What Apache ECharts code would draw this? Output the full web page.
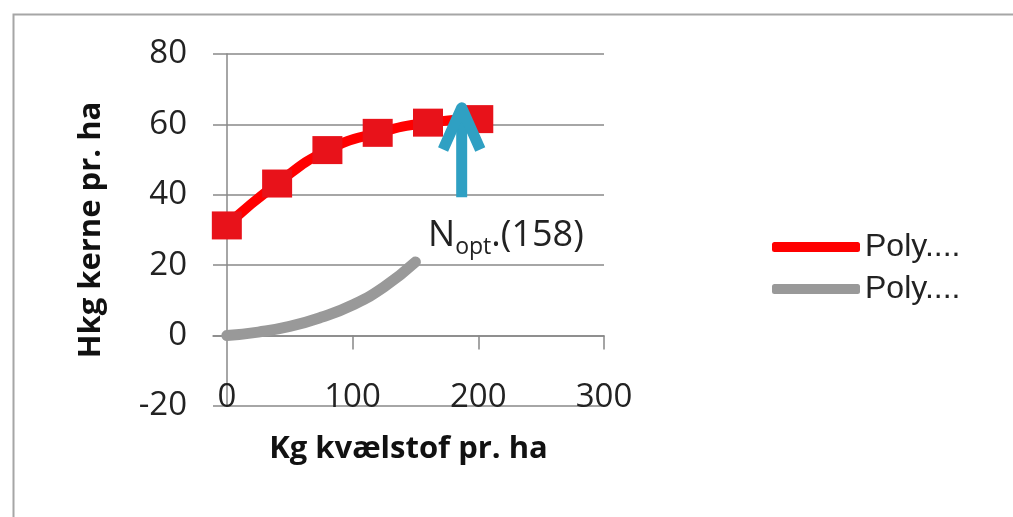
<!DOCTYPE html>
<html>
<head>
<meta charset="utf-8">
<script src="https://cdn.jsdelivr.net/npm/echarts@6/dist/echarts.min.js"></script>
<style>
html,body{margin:0;padding:0;background:#fff;}
#chart{width:1013px;height:517px;}
</style>
</head>
<body>
<div id="chart"></div>
<script>
// Data
const redX = [0, 40, 80, 120, 160, 200];
const redY = [31.3, 43.2, 52.7, 57.6, 60.5, 61.5];
const grayX = [0, 25, 50, 75, 100, 125, 150];
const grayY = [0, 1.0, 2.6, 5.2, 8.7, 13.8, 20.9];
const arrowShaftX = [186.8, 186.8];
const arrowShaftY = [39.3, 64.7];
const arrowHeadX = [172, 186.8, 201.6];
const arrowHeadY = [52.9, 64.7, 52.9];
const noteCoord = [222, 28.3];
const xTickLabels = [0, 100, 200, 300];
const xTicks = [100, 200, 300];
const legendNames = ['Poly....', 'Poly....'];

const zip = (xs, ys) => xs.map((x, i) => [x, ys[i]]);

const chart = echarts.init(document.getElementById('chart'));
const labelFont = 'Open Sans';
chart.setOption({
  backgroundColor: '#ffffff',
  animation: false,
  grid: { left: 213, right: 409, top: 54, bottom: 111, containLabel: false },
  legend: {
    orient: 'vertical',
    left: 772, top: 231, padding: 0,
    itemWidth: 88, itemHeight: 10, itemGap: 10,
    data: [
      { name: 'red', icon: 'roundRect', itemStyle: { color: '#ff0000' } },
      { name: 'gray', icon: 'roundRect', itemStyle: { color: '#999999' } }
    ],
    formatter: n => n === 'red' ? legendNames[0] : legendNames[1],
    textStyle: { fontFamily: 'Liberation Sans', fontSize: 32, color: '#222' }
  },
  xAxis: [
    {
      type: 'value', min: -11, max: 300,
      axisLine: { show: true, onZero: true, lineStyle: { color: '#888', width: 1.5 } },
      axisTick: { show: true, customValues: xTicks, length: 14, lineStyle: { color: '#888', width: 1.5 } },
      axisLabel: { show: false },
      splitLine: { show: false }
    },
    {
      type: 'value', min: -11, max: 300, position: 'bottom',
      axisLine: { show: false, onZero: false },
      axisTick: { show: false },
      axisLabel: {
        show: true, customValues: xTickLabels, margin: -8, verticalAlign: 'middle',
        fontFamily: labelFont, fontSize: 33, color: '#222'
      },
      splitLine: { show: false },
      name: 'Kg kvælstof pr. ha', nameLocation: 'middle', nameGap: 28,
      nameTextStyle: { fontFamily: labelFont, fontWeight: 'bold', fontSize: 31, color: '#111' }
    }
  ],
  yAxis: {
    type: 'value', min: -20, max: 80, interval: 20,
    axisLine: { show: true, onZero: true, lineStyle: { color: '#888', width: 1.5 } },
    axisTick: { show: false },
    axisLabel: { margin: 26, fontFamily: labelFont, fontSize: 33, color: '#222' },
    splitLine: { show: true, lineStyle: { color: '#888', width: 1.5 } },
    name: 'Hkg kerne pr. ha', nameLocation: 'middle', nameGap: 106, nameRotate: 90,
    nameTextStyle: { fontFamily: labelFont, fontWeight: 'bold', fontSize: 31, color: '#111' }
  },
  series: [
    {
      name: 'gray', type: 'line', smooth: true, xAxisIndex: 0,
      data: zip(grayX, grayY), showSymbol: false, symbol: 'none',
      lineStyle: { color: '#999999', width: 11, cap: 'round' },
      itemStyle: { color: '#999999' }, z: 3
    },
    {
      name: 'red', type: 'line', smooth: true, xAxisIndex: 0,
      data: zip(redX, redY), symbol: 'rect', symbolSize: [30, 28],
      lineStyle: { color: '#ff0000', width: 10 },
      itemStyle: { color: '#e8121a' }, z: 4
    },
    {
      name: 'arrowShaft', type: 'line', xAxisIndex: 0, symbol: 'none',
      data: zip(arrowShaftX, arrowShaftY),
      lineStyle: { color: '#2fa0c3', width: 11, cap: 'butt' }, z: 6,
      markPoint: {
        symbol: 'circle', symbolSize: 0,
        data: [{ coord: noteCoord }],
        label: {
          show: true, position: 'inside',
          formatter: '{a|N}{b|opt}{a|.(158)}',
          rich: {
            a: { fontFamily: labelFont, fontSize: 36, color: '#222', lineHeight: 46, verticalAlign: 'middle' },
            b: { fontFamily: labelFont, fontSize: 23, color: '#222', lineHeight: 23, verticalAlign: 'bottom' }
          }
        }
      }
    },
    {
      name: 'arrowHead', type: 'line', xAxisIndex: 0, symbol: 'none',
      data: zip(arrowHeadX, arrowHeadY),
      lineStyle: { color: '#2fa0c3', width: 11, cap: 'butt', join: 'round' }, z: 6
    }
  ],
  graphic: [
    {
      type: 'rect', left: 11, top: 12, z: 100, silent: true,
      shape: { width: 1010, height: 510 },
      style: { fill: 'none', stroke: '#a6a6a6', lineWidth: 2 }
    }
  ]
});
</script>
</body>
</html>
